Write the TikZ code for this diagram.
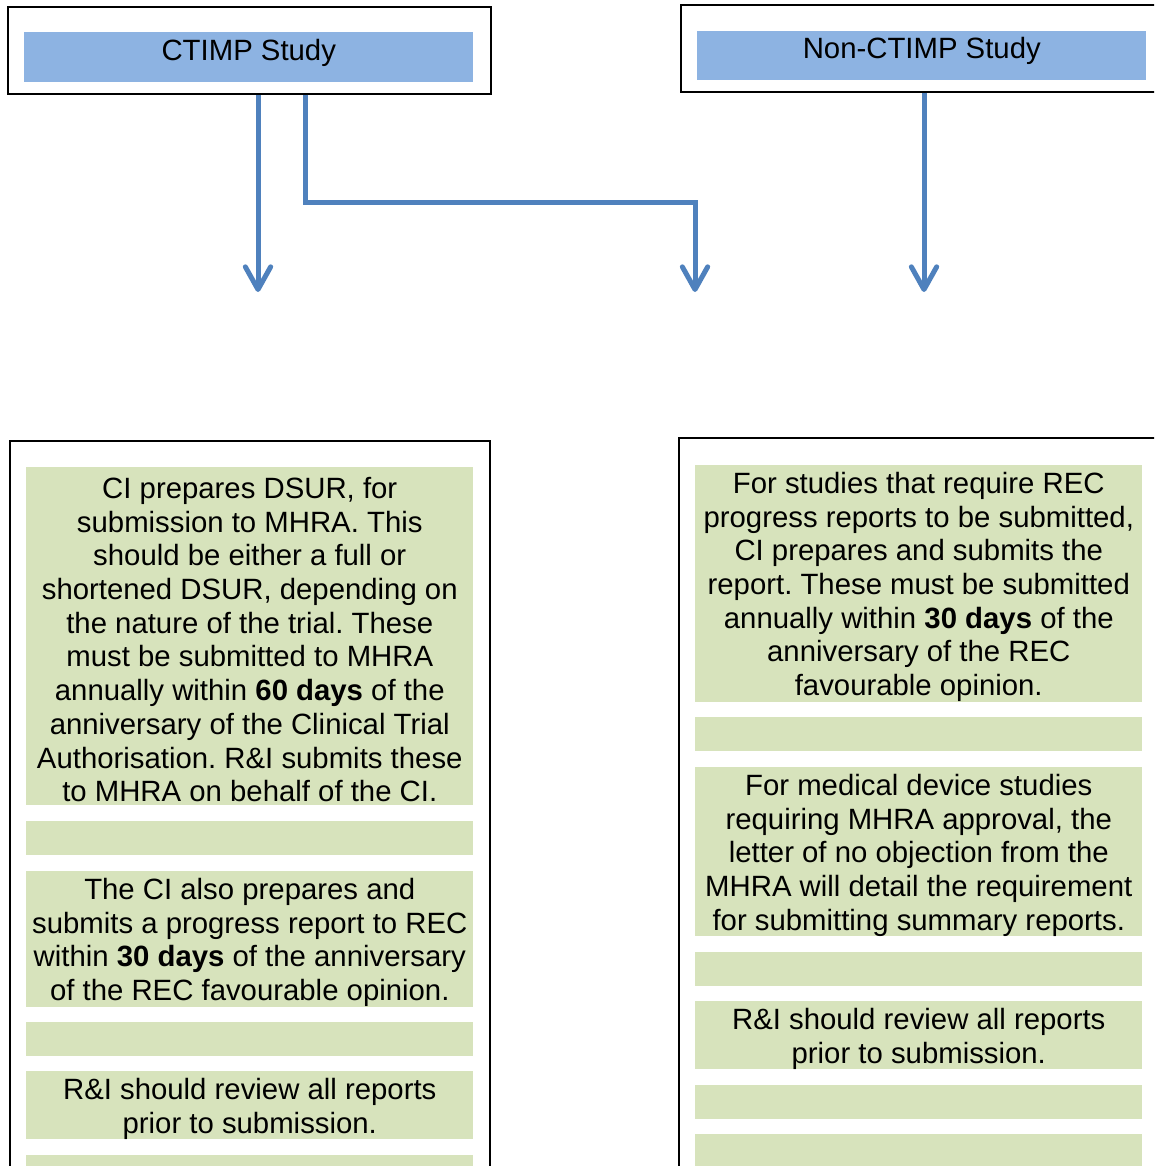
\documentclass[tikz,border=0pt]{standalone}
\usepackage{fontspec}
\setmainfont{Liberation Sans}
\usetikzlibrary{arrows.meta}
\definecolor{barblue}{HTML}{8DB3E2}
\definecolor{bargreen}{HTML}{D7E3BC}
\definecolor{arrowblue}{HTML}{4F81BD}
\newcommand{\gstrut}{\rule{0pt}{21pt}}
\newcommand{\upraise}[1]{\raisebox{3.5pt}[\height][\depth]{#1}}
\begin{document}
\frenchspacing
\begin{tikzpicture}[x=0.75pt,y=-0.75pt,
  outerbox/.style={draw=black, line width=1.5pt, inner sep=0pt, anchor=north west},
  bluebar/.style={fill=barblue, inner sep=0pt, anchor=north west, minimum width=336.75pt,
    font=\fontsize{22pt}{25.3pt}\selectfont, align=center},
  greenbar/.style={fill=bargreen, inner sep=0pt, anchor=north west, minimum width=335.25pt,
    font=\fontsize{22pt}{25.3pt}\selectfont, align=center},
  arr/.style={draw=arrowblue, line width=3.75pt,
    -{Straight Barb[length=17pt,width=19pt,round]}}]
\useasboundingbox (0,0) rectangle (1154,1166);
\clip (0,0) rectangle (1154,1166);
% top boxes
\node[outerbox, minimum width=362.25pt, minimum height=65.25pt] (ctimpbox) at (7,6) {};
\node[bluebar, minimum height=37.5pt] (ctimp) at (24,32) {\upraise{CTIMP Study}};
\node[outerbox, minimum width=363.75pt, minimum height=65.25pt] (noncbox) at (680,4) {};
\node[bluebar, minimum height=36.75pt] (nonc) at (697,31) {\upraise{Non-CTIMP Study}};
% bottom boxes
\node[outerbox, minimum width=360pt, minimum height=570pt] (leftbox) at (9,440) {};
\node[outerbox, minimum width=365.25pt, minimum height=570pt] (rightbox) at (678,437) {};
% left bars
\node[greenbar, minimum height=253.5pt] (l1) at (26,467) {\gstrut CI prepares DSUR, for\\submission to MHRA. This\\should be either a full or\\shortened DSUR, depending on\\the nature of the trial. These\\must be submitted to MHRA\\annually within \textbf{60 days} of the\\anniversary of the Clinical Trial\\Authorisation. R\&I submits these\\to MHRA on behalf of the CI.};
\node[greenbar, minimum height=25.5pt] (l2) at (26,821) {};
\node[greenbar, minimum height=101.25pt] (l3) at (26,871) {\gstrut The CI also prepares and\\submits a progress report to REC\\within \textbf{30 days} of the anniversary\\of the REC favourable opinion.};
\node[greenbar, minimum height=25.5pt] (l4) at (26,1022) {};
\node[greenbar, minimum height=51pt] (l5) at (26,1071) {\gstrut R\&I should review all reports\\prior to submission.};
\node[greenbar, minimum height=25.5pt] (l6) at (26,1155) {};
% right bars
\node[greenbar, minimum height=177pt] (r1) at (695,465) {\gstrut For studies that require REC\\progress reports to be submitted,\\CI prepares and submits the\\report. These must be submitted\\annually within \textbf{30 days} of the\\anniversary of the REC\\favourable opinion.};
\node[greenbar, minimum height=25.5pt] (r2) at (695,717) {};
\node[greenbar, minimum height=126.75pt] (r3) at (695,767) {\gstrut For medical device studies\\requiring MHRA approval, the\\letter of no objection from the\\MHRA will detail the requirement\\for submitting summary reports.};
\node[greenbar, minimum height=25.5pt] (r4) at (695,952) {};
\node[greenbar, minimum height=51pt] (r5) at (695,1001) {\gstrut R\&I should review all reports\\prior to submission.};
\node[greenbar, minimum height=25.5pt] (r6) at (695,1085) {};
\node[greenbar, minimum height=25.5pt] (r7) at (695,1134) {};
% arrows
\coordinate (a1) at (258,292);
\coordinate (b1) at (305,0);
\coordinate (bend) at (305,203);
\coordinate (a2) at (695,292);
\coordinate (a3) at (924,292);
\draw[arr] (ctimpbox.south -| a1) -- (a1);
\draw[arr] (ctimpbox.south -| b1) -- (bend) -| (a2);
\draw[arr] (noncbox.south -| a3) -- (a3);
\end{tikzpicture}
\end{document}
